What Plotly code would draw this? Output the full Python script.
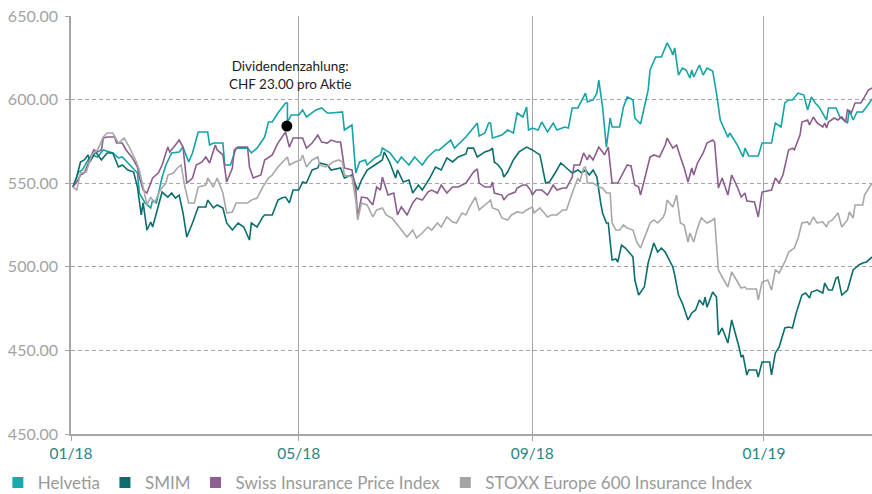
import pandas as pd
import plotly.graph_objects as go

START = pd.Timestamp("2018-01-01")

# day offsets since 2018-01-01 and index values
helvetia_day = [1, 4, 6, 9, 11, 14, 17, 22, 25, 27, 31, 35, 36, 39, 42, 43, 45, 48, 50, 53, 57, 59, 62, 64, 67, 72, 73, 75, 80, 81, 84, 87, 93, 95, 98, 102, 104, 106, 109, 113, 114, 114, 116, 120, 122, 124, 129, 132, 135, 137, 143, 144, 148, 150, 152, 155, 156, 160, 163, 164, 168, 172, 174, 178, 181, 185, 188, 192, 194, 200, 202, 208, 211, 214, 215, 218, 220, 221, 222, 227, 230, 233, 235, 238, 240, 241, 243, 246, 248, 251, 254, 256, 260, 262, 264, 267, 271, 272, 275, 277, 278, 280, 282, 284, 285, 289, 291, 293, 296, 297, 300, 301, 304, 305, 308, 311, 313, 314, 316, 317, 318, 320, 322, 324, 326, 327, 328, 331, 333, 335, 338, 340, 342, 346, 347, 351, 354, 355, 357, 362, 364, 369, 371, 374, 376, 378, 380, 383, 386, 388, 390, 392, 394, 398, 399, 403, 405, 409, 410, 412, 414, 417, 419, 422]
helvetia_val = [547.7, 556.7, 557.9, 563.9, 566.9, 565.7, 569.9, 568.1, 565.1, 565.7, 560.9, 556.1, 544.1, 538.2, 535.2, 539.9, 538.2, 553.7, 560.9, 568.1, 568.7, 571.6, 562.7, 568.1, 580.6, 580.6, 572.8, 574.0, 574.0, 560.9, 560.9, 571.0, 571.0, 568.1, 571.0, 577.6, 586.6, 586.6, 592.0, 598.0, 598.0, 586.6, 590.8, 590.8, 593.8, 589.6, 593.8, 595.0, 592.0, 592.0, 592.6, 581.8, 584.8, 556.1, 562.7, 563.9, 560.9, 565.1, 566.9, 571.0, 568.1, 562.1, 565.7, 560.9, 565.7, 560.9, 565.7, 569.9, 569.9, 575.8, 571.0, 577.6, 581.8, 586.0, 578.2, 580.0, 586.0, 586.0, 577.0, 578.8, 581.8, 580.0, 592.0, 589.6, 595.6, 581.8, 583.0, 581.8, 586.6, 580.6, 586.0, 581.8, 583.6, 583.0, 595.0, 595.0, 603.9, 598.6, 599.8, 603.9, 611.7, 595.6, 571.6, 589.0, 583.6, 583.6, 595.6, 601.6, 599.8, 589.0, 585.4, 590.8, 605.7, 617.7, 625.5, 625.5, 631.5, 633.9, 629.7, 626.7, 630.9, 614.7, 618.9, 617.7, 612.9, 617.7, 613.5, 620.7, 614.7, 618.9, 617.1, 603.9, 587.8, 577.6, 580.0, 572.8, 565.7, 571.0, 566.3, 566.3, 574.0, 574.0, 586.0, 583.6, 598.0, 599.8, 599.8, 603.9, 602.7, 593.8, 601.6, 598.0, 595.6, 587.8, 595.0, 595.0, 589.6, 586.0, 593.8, 587.8, 592.6, 592.6, 595.6, 600.4]

smim_day = [1, 3, 5, 7, 9, 10, 13, 14, 16, 19, 22, 25, 27, 30, 33, 35, 37, 38, 40, 42, 43, 45, 48, 51, 53, 55, 57, 59, 61, 64, 65, 67, 71, 72, 75, 77, 80, 82, 85, 88, 91, 94, 95, 98, 101, 102, 106, 109, 111, 113, 115, 117, 120, 122, 124, 127, 130, 131, 135, 137, 142, 144, 148, 151, 153, 156, 160, 164, 165, 168, 171, 172, 175, 178, 180, 183, 185, 189, 192, 195, 198, 201, 204, 208, 209, 212, 214, 218, 221, 222, 223, 225, 227, 228, 230, 233, 236, 240, 243, 247, 250, 252, 255, 258, 261, 264, 267, 269, 271, 273, 275, 277, 279, 280, 282, 283, 285, 287, 288, 290, 292, 295, 296, 297, 299, 302, 304, 307, 309, 311, 313, 317, 318, 320, 322, 325, 327, 329, 331, 333, 334, 335, 338, 340, 341, 343, 346, 348, 350, 352, 353, 354, 356, 357, 361, 362, 364, 368, 369, 371, 373, 376, 378, 380, 382, 385, 387, 389, 390, 393, 396, 397, 399, 401, 403, 404, 406, 409, 412, 415, 417, 419, 422]
smim_val = [547.7, 553.7, 562.7, 563.9, 566.9, 562.7, 568.7, 566.9, 563.9, 568.1, 568.1, 559.7, 560.9, 557.9, 556.7, 547.7, 531.0, 538.2, 522.0, 526.8, 523.8, 532.2, 544.7, 541.7, 544.1, 541.1, 542.9, 532.2, 517.8, 526.2, 529.8, 535.8, 535.8, 539.9, 535.2, 537.0, 535.2, 526.2, 522.0, 526.2, 523.8, 516.0, 526.2, 523.8, 529.8, 531.0, 531.0, 539.9, 541.1, 541.7, 538.2, 545.9, 545.9, 550.7, 550.1, 557.9, 559.1, 562.1, 560.9, 557.9, 559.1, 553.1, 554.9, 545.9, 551.9, 557.9, 560.9, 563.9, 568.7, 562.1, 553.1, 557.9, 550.7, 551.9, 544.1, 548.9, 545.9, 553.1, 559.7, 557.9, 565.1, 562.7, 565.7, 567.5, 571.0, 571.0, 565.7, 568.7, 569.9, 571.0, 562.7, 560.9, 557.9, 553.7, 556.7, 563.9, 568.7, 571.6, 569.9, 566.9, 550.1, 550.7, 556.1, 562.1, 559.1, 556.1, 557.9, 556.1, 557.9, 554.9, 557.9, 553.7, 538.2, 532.2, 526.2, 526.2, 504.1, 504.7, 502.9, 513.0, 511.2, 507.7, 505.9, 492.1, 483.1, 487.9, 502.3, 514.2, 508.8, 511.2, 508.8, 499.9, 495.1, 483.1, 478.3, 468.2, 472.4, 474.2, 480.1, 477.1, 481.9, 475.9, 484.9, 481.9, 459.2, 463.4, 454.4, 468.2, 460.4, 451.4, 446.0, 447.2, 435.3, 438.3, 438.3, 434.1, 443.1, 443.1, 435.3, 448.4, 452.0, 463.4, 464.0, 463.4, 472.4, 483.1, 484.3, 481.3, 484.9, 486.1, 484.3, 490.3, 486.1, 486.1, 493.3, 493.9, 483.1, 486.1, 498.1, 501.1, 502.3, 502.9, 505.9]

swiss_ins_day = [1, 3, 5, 7, 12, 14, 16, 17, 19, 23, 24, 27, 29, 32, 35, 36, 38, 40, 42, 43, 46, 48, 51, 52, 55, 57, 59, 61, 64, 66, 69, 71, 73, 76, 77, 80, 82, 85, 86, 88, 93, 94, 96, 100, 102, 106, 109, 111, 113, 115, 117, 122, 124, 127, 130, 132, 135, 137, 140, 142, 144, 148, 150, 151, 153, 156, 159, 161, 163, 164, 167, 170, 172, 174, 177, 180, 182, 185, 188, 190, 193, 195, 198, 201, 204, 208, 209, 212, 214, 215, 218, 221, 222, 223, 227, 228, 230, 234, 235, 238, 240, 242, 243, 245, 248, 251, 254, 256, 259, 261, 264, 265, 268, 270, 272, 273, 275, 278, 280, 281, 283, 285, 288, 291, 293, 295, 297, 299, 300, 302, 305, 307, 310, 313, 314, 317, 319, 321, 323, 325, 327, 328, 330, 333, 335, 338, 339, 341, 343, 346, 348, 351, 353, 355, 356, 360, 362, 364, 369, 371, 373, 375, 378, 380, 381, 384, 385, 388, 389, 391, 393, 396, 397, 398, 399, 402, 404, 406, 408, 409, 411, 413, 416, 418, 420, 422]
swiss_ins_val = [547.7, 550.7, 554.9, 556.1, 569.9, 568.7, 569.9, 577.0, 577.6, 577.6, 574.0, 574.0, 569.9, 565.7, 559.7, 553.7, 545.9, 544.1, 550.1, 553.1, 556.1, 560.9, 571.6, 568.7, 572.8, 575.8, 571.6, 550.1, 553.1, 560.9, 562.7, 565.7, 562.1, 572.8, 569.9, 566.9, 550.7, 559.1, 569.9, 571.6, 571.6, 559.7, 553.1, 554.9, 563.9, 566.9, 574.0, 577.6, 580.6, 571.6, 577.0, 577.0, 571.0, 574.0, 578.8, 574.6, 574.0, 575.8, 574.6, 574.6, 559.1, 557.9, 545.9, 529.8, 541.7, 541.1, 537.0, 547.7, 545.9, 553.7, 542.9, 544.1, 531.0, 535.8, 531.0, 538.2, 541.1, 539.9, 544.7, 545.9, 544.1, 548.9, 544.1, 547.7, 547.7, 550.1, 551.9, 556.7, 558.5, 550.1, 547.7, 547.7, 550.7, 544.1, 542.9, 539.9, 542.9, 544.7, 547.1, 548.9, 548.9, 545.9, 542.9, 545.9, 545.9, 542.9, 548.9, 545.9, 547.1, 547.1, 553.7, 560.9, 560.9, 568.1, 563.9, 566.9, 563.9, 571.6, 568.7, 566.9, 571.6, 550.1, 550.1, 556.1, 560.9, 560.3, 548.9, 547.7, 542.9, 551.9, 565.7, 566.9, 565.7, 572.8, 577.0, 571.0, 572.8, 565.7, 559.1, 550.7, 559.1, 554.9, 562.1, 568.1, 574.0, 575.8, 574.6, 547.1, 553.1, 542.9, 554.9, 547.7, 541.7, 544.1, 539.4, 538.8, 529.8, 544.7, 545.9, 553.1, 550.1, 554.9, 569.9, 571.0, 569.9, 578.8, 586.6, 587.8, 584.8, 589.6, 586.0, 583.6, 586.0, 583.0, 586.6, 589.0, 587.8, 589.6, 586.6, 593.8, 592.0, 598.0, 598.0, 601.6, 605.7, 606.9]

stoxx_day = [1, 3, 5, 8, 11, 14, 17, 19, 22, 25, 28, 31, 34, 36, 38, 40, 42, 44, 47, 50, 51, 54, 56, 58, 60, 62, 65, 67, 71, 72, 75, 77, 80, 82, 85, 87, 93, 95, 98, 101, 104, 106, 109, 111, 114, 115, 118, 121, 122, 124, 127, 130, 131, 134, 136, 138, 141, 143, 144, 148, 150, 151, 153, 156, 159, 161, 164, 166, 169, 172, 175, 177, 180, 182, 185, 188, 190, 193, 195, 198, 201, 203, 206, 208, 210, 213, 215, 218, 221, 222, 225, 227, 230, 232, 235, 238, 240, 243, 244, 247, 251, 253, 256, 259, 261, 264, 267, 268, 270, 271, 272, 275, 278, 280, 282, 284, 285, 287, 289, 291, 293, 296, 298, 300, 302, 305, 307, 309, 312, 313, 314, 317, 319, 321, 323, 325, 326, 328, 330, 332, 335, 338, 339, 341, 343, 346, 348, 351, 353, 355, 356, 361, 362, 364, 367, 369, 371, 373, 376, 378, 381, 383, 385, 388, 389, 391, 393, 396, 398, 399, 401, 404, 406, 409, 410, 412, 413, 417, 418, 422]
stoxx_val = [547.7, 545.9, 556.1, 556.7, 566.9, 569.9, 577.6, 580.0, 580.0, 574.0, 577.0, 571.0, 563.9, 557.9, 547.7, 537.0, 541.7, 538.2, 545.9, 550.1, 554.9, 556.1, 559.1, 560.9, 547.7, 538.2, 538.2, 547.7, 548.9, 553.1, 547.7, 553.1, 544.1, 532.2, 532.8, 538.2, 538.2, 539.9, 541.1, 547.7, 553.1, 554.9, 559.7, 562.1, 565.7, 560.9, 562.7, 563.9, 566.9, 559.7, 563.9, 565.7, 560.9, 559.7, 560.9, 562.7, 563.9, 562.7, 554.9, 553.7, 539.9, 528.0, 538.2, 537.0, 529.8, 534.0, 535.2, 531.0, 529.2, 525.0, 520.8, 517.8, 522.0, 517.2, 520.2, 523.8, 522.0, 526.2, 523.8, 529.8, 526.8, 526.2, 532.2, 531.0, 535.8, 541.7, 534.0, 537.0, 539.9, 535.2, 534.0, 529.2, 528.0, 531.0, 532.8, 532.2, 534.0, 535.8, 532.2, 535.2, 529.8, 531.0, 531.0, 534.0, 534.0, 544.1, 553.1, 550.7, 559.1, 559.7, 550.1, 550.1, 547.7, 547.1, 544.1, 544.1, 526.2, 522.0, 522.0, 525.0, 523.2, 522.0, 514.8, 511.2, 517.2, 526.2, 528.0, 526.2, 529.8, 532.8, 539.9, 535.8, 542.9, 526.2, 525.0, 514.8, 520.2, 514.8, 523.2, 529.2, 526.2, 528.0, 529.2, 498.1, 493.9, 487.9, 496.9, 490.9, 487.3, 487.9, 486.7, 486.7, 480.1, 490.9, 492.1, 486.1, 498.1, 496.3, 502.9, 508.8, 511.2, 517.2, 526.2, 526.8, 525.0, 529.8, 526.2, 526.8, 523.8, 526.8, 528.0, 532.2, 523.8, 528.0, 532.8, 529.2, 537.0, 537.0, 542.9, 550.1]

dividend_day = 113.7
dividend_val = 584.2
dividend_text = "Dividendenzahlung:<br>CHF 23.00 pro Aktie"

series_names = ["Helvetia", "SMIM", "Swiss Insurance Price Index", "STOXX Europe 600 Insurance Index"]
series_colors = ["#14a3a6", "#0b6e6d", "#8b5d8f", "#a8a8a6"]
legend_colors = ["#17a9ab", "#0f6c6c", "#8e5f93", "#a5a5a5"]

y_tickvals = [400, 450, 500, 550, 600, 650]
y_ticktext = ["450.00", "450.00", "500.00", "550.00", "600.00", "650.00"]
x_tickvals = ["2018-01-01", "2018-05-01", "2018-09-01", "2019-01-01"]
x_ticktext = ["01/18", "05/18", "09/18", "01/19"]


def to_dates(days):
    return [START + pd.Timedelta(days=d) for d in days]


FONT = "Lato, 'Noto Sans', sans-serif"
GRID = "#a6a6a6"

fig = go.Figure()
data = [
    (helvetia_day, helvetia_val),
    (smim_day, smim_val),
    (swiss_ins_day, swiss_ins_val),
    (stoxx_day, stoxx_val),
]
for (d, v), name, col in zip(data, series_names, series_colors):
    fig.add_trace(go.Scatter(x=to_dates(d), y=v, mode="lines", name=name,
                             line=dict(color=col, width=1.6), showlegend=False,
                             hoverinfo="skip"))

for name, col in zip(series_names, legend_colors):
    fig.add_trace(go.Scatter(x=[None], y=[None], mode="markers", name=name,
                             marker=dict(symbol="square", size=11, color=col),
                             showlegend=True))

div_date = START + pd.Timedelta(days=dividend_day)
fig.add_trace(go.Scatter(x=[div_date], y=[dividend_val], mode="markers",
                         marker=dict(color="black", size=11), showlegend=False,
                         hoverinfo="skip"))
fig.add_annotation(x=div_date, y=dividend_val, text=dividend_text, showarrow=False,
                   xanchor="center", yanchor="bottom", yshift=32, xshift=3,
                   font=dict(family=FONT, size=13.5, color="#222222"), align="center")

fig.update_xaxes(type="date",
                 range=["2018-01-01", "2019-02-26T22:00"],
                 tickvals=x_tickvals, ticktext=x_ticktext,
                 showgrid=True, gridcolor=GRID, gridwidth=1,
                 showline=True, linecolor=GRID, linewidth=1.5,
                 ticks="outside", ticklen=5, tickcolor=GRID,
                 tickfont=dict(family=FONT, size=15.5, color="#2a8585"),
                 zeroline=False, automargin=False)
fig.update_yaxes(range=[400, 650], tickvals=y_tickvals, ticktext=y_ticktext,
                 showgrid=True, gridcolor=GRID, gridwidth=1, griddash="4px,3px",
                 showline=True, linecolor=GRID, linewidth=1.5,
                 ticks="outside", ticklen=4, tickcolor=GRID,
                 ticklabelstandoff=4,
                 tickfont=dict(family=FONT, size=16, color="#a3a3a3"),
                 zeroline=False, automargin=False)

fig.update_layout(
    width=872, height=494,
    margin=dict(l=71, r=0, t=16, b=60, autoexpand=False),
    plot_bgcolor="white", paper_bgcolor="white",
    showlegend=True,
    legend=dict(orientation="h", x=-0.0913, xanchor="left", y=-0.117, yanchor="middle",
                font=dict(family=FONT, size=17, color="#9a9a9a"),
                itemclick=False, itemdoubleclick=False, bgcolor="rgba(0,0,0,0)"),
    font=dict(family=FONT),
)

fig.write_html("out.html", config={"displayModeBar": False},
               post_script="document.body.style.margin='0';document.body.style.overflow='hidden';")
